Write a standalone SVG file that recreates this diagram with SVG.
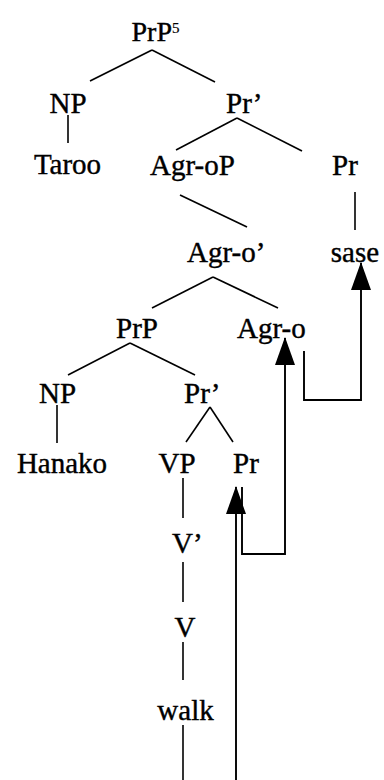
<svg xmlns="http://www.w3.org/2000/svg" width="384" height="780" viewBox="0 0 384 780">
<style>
text{font-family:"Liberation Serif","Times New Roman",serif;font-size:29px;fill:#000;stroke:#000;stroke-width:0.4}
.e{stroke:#000;stroke-width:1.6;fill:none}
.m{stroke:#000;stroke-width:1.9;fill:none}
.sup{font-size:15px;stroke-width:0.2}
</style>
<defs>
<marker id="ah" markerUnits="userSpaceOnUse" viewBox="0 0 28 20" markerWidth="28" markerHeight="20" refX="27" refY="10" orient="auto">
<path d="M0,0 L28,10 L0,20 z" fill="#000"/>
</marker>
</defs>
<rect width="384" height="780" fill="#fff"/>
<g id="connectors">
<line class="e" x1="152" y1="50" x2="90" y2="81"/>
<line class="e" x1="152" y1="50" x2="215" y2="82"/>
<line class="e" x1="68" y1="115" x2="68" y2="143"/>
<line class="e" x1="237" y1="118" x2="176" y2="150"/>
<line class="e" x1="237" y1="118" x2="302" y2="151"/>
<line class="e" x1="180" y1="195" x2="247" y2="227"/>
<line class="e" x1="355" y1="192" x2="355" y2="230"/>
<line class="e" x1="213" y1="277" x2="152" y2="308"/>
<line class="e" x1="213" y1="277" x2="278" y2="308"/>
<line class="e" x1="130" y1="343" x2="68" y2="375"/>
<line class="e" x1="130" y1="343" x2="195" y2="375"/>
<line class="e" x1="57" y1="405" x2="57" y2="443"/>
<line class="e" x1="210" y1="407" x2="186" y2="442"/>
<line class="e" x1="210" y1="407" x2="233" y2="442"/>
<line class="e" x1="183" y1="478" x2="183" y2="518"/>
<line class="e" x1="183" y1="562" x2="183" y2="602"/>
<line class="e" x1="183" y1="642" x2="183" y2="680"/>
<line class="e" x1="183" y1="725" x2="183" y2="780"/>
<path class="m" d="M236,780 L236,487" marker-end="url(#ah)"/>
<path class="m" d="M242,487 L242,554 L285,554 L285,338" marker-end="url(#ah)"/>
<path class="m" d="M304,351 L304,400 L361,400 L361,263" marker-end="url(#ah)"/>
</g>
<g id="n-prp-top"><text x="172" y="41" text-anchor="end" style="font-size:28px">PrP</text><text class="sup" x="172" y="33">5</text></g>
<g id="n-np-top"><text x="68" y="113" text-anchor="middle">NP</text></g>
<g id="n-taroo"><text x="67.5" y="174" text-anchor="middle">Taroo</text></g>
<g id="n-prbar-top"><text x="226" y="113">Pr’</text></g>
<g id="n-agr-op"><text x="150" y="175">Agr-oP</text></g>
<g id="n-pr-top"><text x="345" y="175" text-anchor="middle">Pr</text></g>
<g id="n-agr-obar"><text x="187" y="262">Agr-o’</text></g>
<g id="n-sase"><text x="355" y="262" text-anchor="middle">sase</text></g>
<g id="n-prp-mid"><text x="137" y="338" text-anchor="middle">PrP</text></g>
<g id="n-agr-o"><text x="237" y="338">Agr-o</text></g>
<g id="n-np-low"><text x="57.5" y="403" text-anchor="middle">NP</text></g>
<g id="n-prbar-low"><text x="184" y="403">Pr’</text></g>
<g id="n-hanako"><text x="62" y="473" text-anchor="middle">Hanako</text></g>
<g id="n-vp"><text x="177" y="473" text-anchor="middle">VP</text></g>
<g id="n-pr-low"><text x="246" y="473" text-anchor="middle">Pr</text></g>
<g id="n-vbar"><text x="172" y="553">V’</text></g>
<g id="n-v"><text x="185" y="637" text-anchor="middle">V</text></g>
<g id="n-walk"><text x="185.5" y="720" text-anchor="middle">walk</text></g>
</svg>
